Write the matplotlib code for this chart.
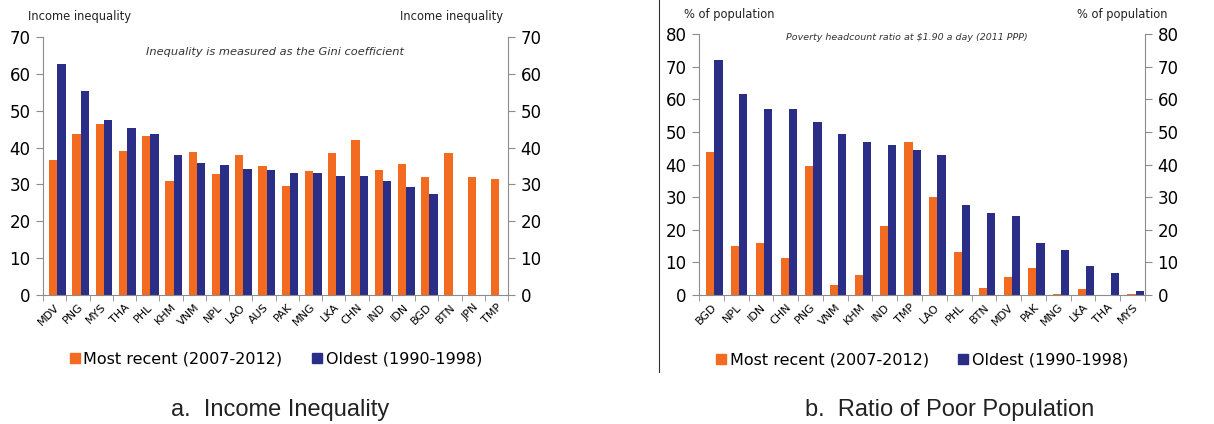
import matplotlib
matplotlib.use("Agg")
import matplotlib.pyplot as plt
import numpy as np
from matplotlib.lines import Line2D

# ── data ────────────────────────────────────────────────────────────────────
gini_countries = ["MDV", "PNG", "MYS", "THA", "PHL", "KHM", "VNM", "NPL", "LAO", "AUS",
                  "PAK", "MNG", "LKA", "CHN", "IND", "IDN", "BGD", "BTN", "JPN", "TMP"]
gini_recent = [36.6, 43.8, 46.3, 39.2, 43.1, 30.8, 38.7, 32.8, 37.9, 35.0,
               29.6, 33.7, 38.6, 42.0, 33.9, 35.6, 31.9, 38.6, 32.0, 31.4]
gini_oldest = [62.7, 55.4, 47.6, 45.2, 43.8, 38.1, 35.7, 35.2, 34.3, 33.8,
               33.2, 33.2, 32.4, 32.4, 30.9, 29.2, 27.5, np.nan, np.nan, np.nan]

pov_countries = ["BGD", "NPL", "IDN", "CHN", "PNG", "VNM", "KHM", "IND", "TMP",
                 "LAO", "PHL", "BTN", "MDV", "PAK", "MNG", "LKA", "THA", "MYS"]
pov_recent = [43.8, 15.0, 15.9, 11.2, 39.4, 3.1, 6.1, 21.2, 46.8,
              30.0, 13.1, 2.2, 5.6, 8.3, 0.4, 1.7, 0.0, 0.3]
pov_oldest = [72.0, 61.6, 57.0, 57.0, 53.1, 49.3, 47.0, 46.1, 44.3,
              42.8, 27.6, 25.0, 24.1, 16.0, 13.8, 8.8, 6.6, 1.2]

# ── style ───────────────────────────────────────────────────────────────────
C_ORANGE = "#F26B21"
C_BLUE = "#2B2E86"
C_AXIS = "#8C8C8C"
W, H = 1214, 424

plt.rcParams["font.family"] = "DejaVu Sans"


def px_axes(fig, left, top, right, bottom):
    return fig.add_axes([left / W, 1 - bottom / H, (right - left) / W, (bottom - top) / H])


def panel(ax, cats, recent, oldest, ymax, width, note, note_x, note_y, note_fs):
    x = np.arange(len(cats))
    shift = 0.12  # pairs sit a little right of the category centre
    ax.bar(x + shift - width / 2, recent, width, color=C_ORANGE)
    ax.bar(x + shift + width / 2, oldest, width, color=C_BLUE)
    ax.set_xlim(-0.5, len(cats) - 0.5)
    ax.set_ylim(0, ymax)
    ax.set_yticks(np.arange(0, ymax + 1, 10))
    ax.set_xticks(x)
    ax.set_xticklabels(cats, rotation=45, ha="right", rotation_mode="anchor", fontsize=8)
    ax.set_xticks(np.arange(-0.5, len(cats)), minor=True)
    ax.tick_params(axis="x", which="major", length=0, pad=5)
    ax.tick_params(axis="x", which="minor", length=4, color=C_AXIS)
    ax.tick_params(axis="y", labelsize=12, left=True, right=True, labelleft=True,
                   labelright=True, color=C_AXIS, length=5, pad=4)
    ax.spines["top"].set_visible(False)
    for s in ("left", "right", "bottom"):
        ax.spines[s].set_color(C_AXIS)
    ax.text(note_x, note_y, note, transform=ax.transAxes, ha="center", va="center",
            fontsize=note_fs, style="italic", color="#333333")
    return ax


def side_labels(ax, label, x0, x1, y):
    ax.text(x0, y, label, transform=ax.transAxes, ha="left", va="center",
            fontsize=8.3, color="#222222")
    ax.text(x1, y, label, transform=ax.transAxes, ha="right", va="center",
            fontsize=8.3, color="#222222")


def legend_below(ax):
    h = [Line2D([], [], marker="s", ls="", color=C_ORANGE, markersize=7),
         Line2D([], [], marker="s", ls="", color=C_BLUE, markersize=7)]
    ax.legend(h, ["Most recent (2007-2012)", "Oldest (1990-1998)"], loc="upper center",
              bbox_to_anchor=(0.5, -0.165), ncol=2, frameon=False, fontsize=11.5,
              handlelength=0.7, handletextpad=0.2, columnspacing=1.8)


fig = plt.figure(figsize=(W / 100, H / 100), dpi=100)

ax1 = px_axes(fig, 43, 37, 508, 295)
panel(ax1, gini_countries, gini_recent, gini_oldest, 70, 0.36,
      "Inequality is measured as the Gini coefficient", 0.5, 0.942, 8.2)
side_labels(ax1, "Income inequality", -0.032, 0.99, 1.078)
legend_below(ax1)

ax2 = px_axes(fig, 699, 34, 1145, 295)
panel(ax2, pov_countries, pov_recent, pov_oldest, 80, 0.33,
      "Poverty headcount ratio at $1.90 a day (2011 PPP)", 0.466, 0.985, 6.8)
side_labels(ax2, "% of population", -0.034, 1.05, 1.073)
legend_below(ax2)

# divider between the two panels
fig.add_artist(Line2D([659 / W, 659 / W], [1, 1 - 372 / H], transform=fig.transFigure,
                      color="#333333", lw=0.8))

fig.text(280 / W, 1 - 410 / H, "a.  Income Inequality", ha="center", va="center", fontsize=17,
         color="#222222", family="Liberation Sans")
fig.text(950 / W, 1 - 410 / H, "b.  Ratio of Poor Population", ha="center", va="center",
         fontsize=17, color="#222222", family="Liberation Sans")

fig.savefig("out.png", dpi=100, facecolor="white")
